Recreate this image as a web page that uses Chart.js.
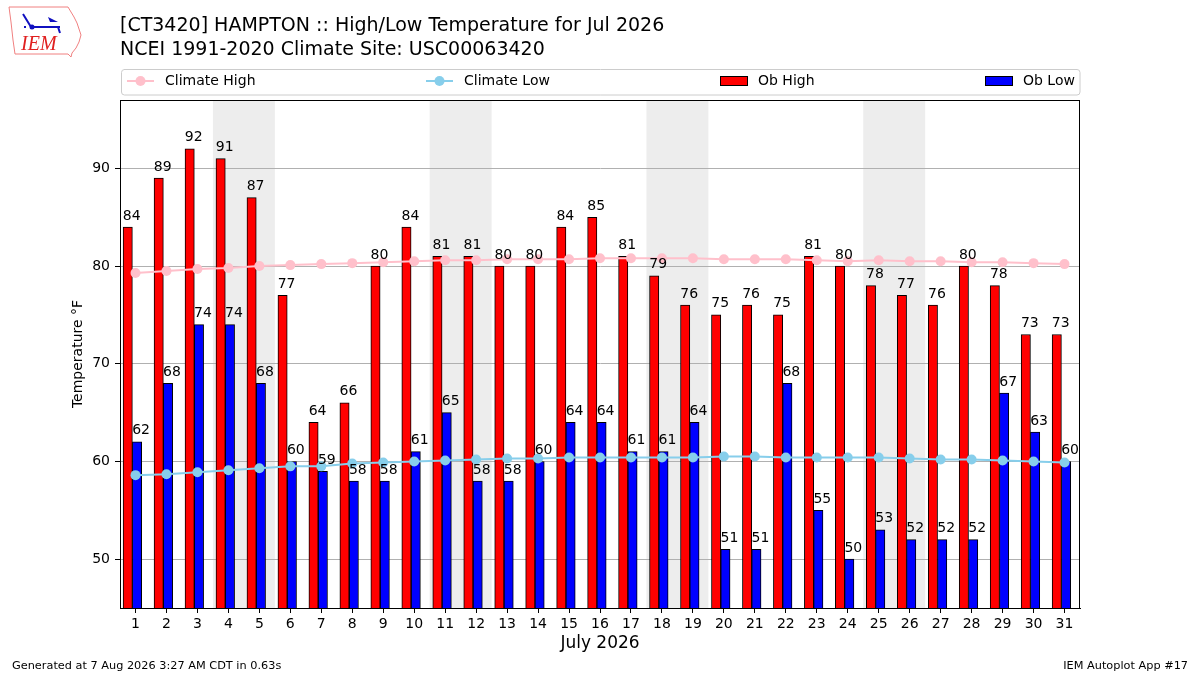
<!DOCTYPE html>
<html>
<head>
<meta charset="utf-8">
<title>HAMPTON High/Low Temperature Jul 2026</title>
<script src="https://cdn.jsdelivr.net/npm/chart.js@4.4.1/dist/chart.umd.min.js"></script>
<style>
  html, body { margin: 0; padding: 0; background: #fff; }
  #wrap { width: 1200px; height: 675px; }
</style>
</head>
<body>
<div id="wrap"><canvas id="chart" width="1200" height="675"></canvas></div>
<script>
// Daily values for July 2026
const days = [1, 2, 3, 4, 5, 6, 7, 8, 9, 10, 11, 12, 13, 14, 15, 16, 17, 18, 19, 20, 21, 22, 23, 24, 25, 26, 27, 28, 29, 30, 31];
const obHigh = [84, 89, 92, 91, 87, 77, 64, 66, 80, 84, 81, 81, 80, 80, 84, 85, 81, 79, 76, 75, 76, 75, 81, 80, 78, 77, 76, 80, 78, 73, 73];
const obLow = [62, 68, 74, 74, 68, 60, 59, 58, 58, 61, 65, 58, 58, 60, 64, 64, 61, 61, 64, 51, 51, 68, 55, 50, 53, 52, 52, 52, 67, 63, 60];
const climHigh = [79.3, 79.5, 79.7, 79.8, 80.0, 80.1, 80.2, 80.3, 80.4, 80.5, 80.6, 80.6, 80.7, 80.7, 80.7, 80.8,
                  80.8, 80.8, 80.8, 80.7, 80.7, 80.7, 80.6, 80.5, 80.6, 80.5, 80.5, 80.4, 80.4, 80.3, 80.2];
const climLow = [58.6, 58.7, 58.9, 59.1, 59.3, 59.5, 59.5, 59.8, 59.9, 60.0, 60.1, 60.2, 60.3, 60.3, 60.4, 60.4,
                 60.4, 60.4, 60.4, 60.5, 60.5, 60.4, 60.4, 60.4, 60.4, 60.3, 60.2, 60.2, 60.1, 60.0, 59.9];
// Saturdays; each shaded band covers the weekend
const weekendStarts = [4, 11, 18, 25];
const yTicks = [50, 60, 70, 80, 90];

const titleLines = [
    '[CT3420] HAMPTON :: High/Low Temperature for Jul 2026',
    'NCEI 1991-2020 Climate Site: USC00063420'
];
const footerLeft = 'Generated at 7 Aug 2026 3:27 AM CDT in 0.63s';
const footerRight = 'IEM Autoplot App #17';

const FONT = "'DejaVu Sans', sans-serif";
const HIGH_COLOR = '#ff0000';
const LOW_COLOR = '#0000ff';
const CLIM_HIGH_COLOR = '#ffc0cb';
const CLIM_LOW_COLOR = '#87ceeb';

// Weekend shading, drawn behind grid and bars
const weekendPlugin = {
    id: 'weekends',
    beforeDraw(chart) {
        const { ctx, chartArea, scales } = chart;
        ctx.save();
        ctx.fillStyle = '#ededed';
        weekendStarts.forEach(d => {
            const x0 = scales.x.getPixelForValue(d - 0.5);
            const x1 = scales.x.getPixelForValue(d + 1.5);
            ctx.fillRect(x0, chartArea.top, x1 - x0, chartArea.bottom - chartArea.top);
        });
        ctx.restore();
    }
};

// Value labels above bars
const barLabelPlugin = {
    id: 'barLabels',
    afterDatasetsDraw(chart) {
        const { ctx } = chart;
        ctx.save();
        ctx.font = '14px ' + FONT;
        ctx.fillStyle = '#000';
        ctx.textAlign = 'center';
        ctx.textBaseline = 'alphabetic';
        chart.data.datasets.forEach((ds, i) => {
            if (ds.type !== 'bar') return;
            chart.getDatasetMeta(i).data.forEach((el, j) => {
                ctx.fillText(String(ds.data[j].y), el.x + 4, el.y - 7.5);
            });
        });
        ctx.restore();
    }
};

function drawLogo(ctx) {
    ctx.save();
    // rough state outline
    ctx.strokeStyle = '#f08080';
    ctx.lineWidth = 1;
    ctx.beginPath();
    ctx.moveTo(9, 7);
    ctx.lineTo(68, 7);
    ctx.lineTo(71, 12);
    ctx.lineTo(74, 17);
    ctx.lineTo(77, 23);
    ctx.lineTo(79, 29);
    ctx.lineTo(81, 35);
    ctx.lineTo(79, 42);
    ctx.lineTo(76, 48);
    ctx.lineTo(72, 53);
    ctx.lineTo(71, 57);
    ctx.lineTo(68, 54);
    ctx.lineTo(15, 54);
    ctx.lineTo(13, 40);
    ctx.lineTo(11, 22);
    ctx.lineTo(9, 7);
    ctx.stroke();
    // station icon
    ctx.strokeStyle = '#1010c0';
    ctx.fillStyle = '#1010c0';
    ctx.lineWidth = 2;
    ctx.beginPath();
    ctx.moveTo(31, 27); ctx.lineTo(60, 27);
    ctx.moveTo(58, 27); ctx.lineTo(60, 33);
    ctx.moveTo(23, 14); ctx.lineTo(31, 27);
    ctx.stroke();
    ctx.beginPath();
    ctx.moveTo(48, 17); ctx.lineTo(58, 22); ctx.lineTo(50, 22); ctx.closePath();
    ctx.fill();
    ctx.beginPath();
    ctx.arc(32, 27, 2.5, 0, Math.PI * 2);
    ctx.fill();
    ctx.fillRect(24, 26, 2, 2);
    // text
    ctx.fillStyle = '#e02020';
    ctx.font = "italic 20px 'Liberation Serif', serif";
    ctx.textAlign = 'left';
    ctx.fillText('IEM', 21, 50);
    ctx.restore();
}

// Titles, legend, frame, footer, logo
const decorPlugin = {
    id: 'decor',
    afterDraw(chart) {
        const { ctx, chartArea } = chart;
        ctx.save();
        ctx.fillStyle = '#000';
        ctx.textAlign = 'left';
        ctx.textBaseline = 'alphabetic';
        ctx.font = '19px ' + FONT;
        ctx.fillText(titleLines[0], 120, 31);
        ctx.fillText(titleLines[1], 120, 55);

        // plot frame
        ctx.strokeStyle = '#000';
        ctx.lineWidth = 1;
        ctx.strokeRect(Math.round(chartArea.left) + 0.5, Math.round(chartArea.top) + 0.5,
            Math.round(chartArea.right - chartArea.left) - 1, Math.round(chartArea.bottom - chartArea.top));

        // legend
        const lx = 121, ly = 69, lw = 959, lh = 26, r = 3;
        ctx.strokeStyle = '#cccccc';
        ctx.beginPath();
        ctx.moveTo(lx + r, ly + 0.5);
        ctx.arcTo(lx + lw, ly + 0.5, lx + lw, ly + lh, r);
        ctx.arcTo(lx + lw, ly + lh, lx, ly + lh, r);
        ctx.arcTo(lx + 0.5, ly + lh, lx + 0.5, ly, r);
        ctx.arcTo(lx + 0.5, ly + 0.5, lx + lw, ly + 0.5, r);
        ctx.stroke();

        const cy = 81;
        const items = [
            { label: chart.data.datasets[0].label, kind: 'line', color: CLIM_HIGH_COLOR, x: 127 },
            { label: chart.data.datasets[1].label, kind: 'line', color: CLIM_LOW_COLOR, x: 426 },
            { label: chart.data.datasets[2].label, kind: 'rect', color: HIGH_COLOR, x: 720 },
            { label: chart.data.datasets[3].label, kind: 'rect', color: LOW_COLOR, x: 985 }
        ];
        ctx.font = '14px ' + FONT;
        ctx.textBaseline = 'middle';
        items.forEach(it => {
            if (it.kind === 'line') {
                ctx.strokeStyle = it.color;
                ctx.lineWidth = 2;
                ctx.beginPath();
                ctx.moveTo(it.x, cy);
                ctx.lineTo(it.x + 27, cy);
                ctx.stroke();
                ctx.fillStyle = it.color;
                ctx.beginPath();
                ctx.arc(it.x + 13.5, cy, 5, 0, Math.PI * 2);
                ctx.fill();
            } else {
                ctx.fillStyle = it.color;
                ctx.fillRect(it.x, cy - 5, 28, 10);
                ctx.strokeStyle = '#000';
                ctx.lineWidth = 1;
                ctx.strokeRect(it.x + 0.5, cy - 4.5, 27, 9);
            }
            ctx.fillStyle = '#000';
            ctx.fillText(it.label, it.x + 38, cy);
        });

        // footer
        ctx.font = '11.3px ' + FONT;
        ctx.textBaseline = 'alphabetic';
        ctx.textAlign = 'left';
        ctx.fillText(footerLeft, 12, 669);
        ctx.textAlign = 'right';
        ctx.fillText(footerRight, 1188, 669);

        drawLogo(ctx);
        ctx.restore();
    }
};

const highPoints = days.map((d, i) => ({ x: d - 0.25, y: obHigh[i] }));
const lowPoints = days.map((d, i) => ({ x: d + 0.05, y: obLow[i] }));
const climHighPoints = days.map((d, i) => ({ x: d, y: climHigh[i] }));
const climLowPoints = days.map((d, i) => ({ x: d, y: climLow[i] }));

new Chart(document.getElementById('chart'), {
    type: 'bar',
    data: {
        datasets: [
            {
                type: 'line', label: 'Climate High', data: climHighPoints,
                borderColor: CLIM_HIGH_COLOR, backgroundColor: CLIM_HIGH_COLOR,
                borderWidth: 2, pointRadius: 5, pointBorderWidth: 0, order: 0
            },
            {
                type: 'line', label: 'Climate Low', data: climLowPoints,
                borderColor: CLIM_LOW_COLOR, backgroundColor: CLIM_LOW_COLOR,
                borderWidth: 2, pointRadius: 5, pointBorderWidth: 0, order: 0
            },
            {
                type: 'bar', label: 'Ob High', data: highPoints,
                backgroundColor: HIGH_COLOR, borderColor: '#000', borderWidth: 1,
                barThickness: 9.3, grouped: false, order: 1
            },
            {
                type: 'bar', label: 'Ob Low', data: lowPoints,
                backgroundColor: LOW_COLOR, borderColor: '#000', borderWidth: 1,
                barThickness: 9.3, grouped: false, order: 1
            }
        ]
    },
    options: {
        responsive: false,
        animation: false,
        devicePixelRatio: 1,
        layout: { padding: { left: 0, top: 100, right: 120, bottom: 0 } },
        plugins: {
            legend: { display: false },
            tooltip: { enabled: false }
        },
        scales: {
            x: {
                type: 'linear',
                min: 0.5,
                max: 31.5,
                offset: false,
                grid: { offset: false, drawOnChartArea: false, tickLength: 5, tickColor: '#000' },
                border: { color: '#000' },
                ticks: { color: '#000', font: { family: FONT, size: 14 }, padding: 3, autoSkip: false, maxRotation: 0 },
                afterBuildTicks: s => { s.ticks = days.map(d => ({ value: d })); },
                afterFit: s => { s.height = 67; },
                title: {
                    display: true, text: 'July 2026', color: '#000',
                    font: { family: FONT, size: 17 }, padding: { top: 0, bottom: 21 }
                }
            },
            y: {
                min: 45,
                max: 97,
                grid: { color: '#b0b0b0', tickLength: 5, tickColor: '#000' },
                border: { color: '#000' },
                ticks: { color: '#000', font: { family: FONT, size: 14 }, padding: 5 },
                afterBuildTicks: s => { s.ticks = yTicks.map(v => ({ value: v })); },
                afterFit: s => { s.width = 120; },
                title: {
                    display: true, text: 'Temperature °F', color: '#000',
                    font: { family: FONT, size: 14 }, padding: { top: 70, bottom: 0 }
                }
            }
        }
    },
    plugins: [weekendPlugin, barLabelPlugin, decorPlugin]
});
</script>
</body>
</html>
